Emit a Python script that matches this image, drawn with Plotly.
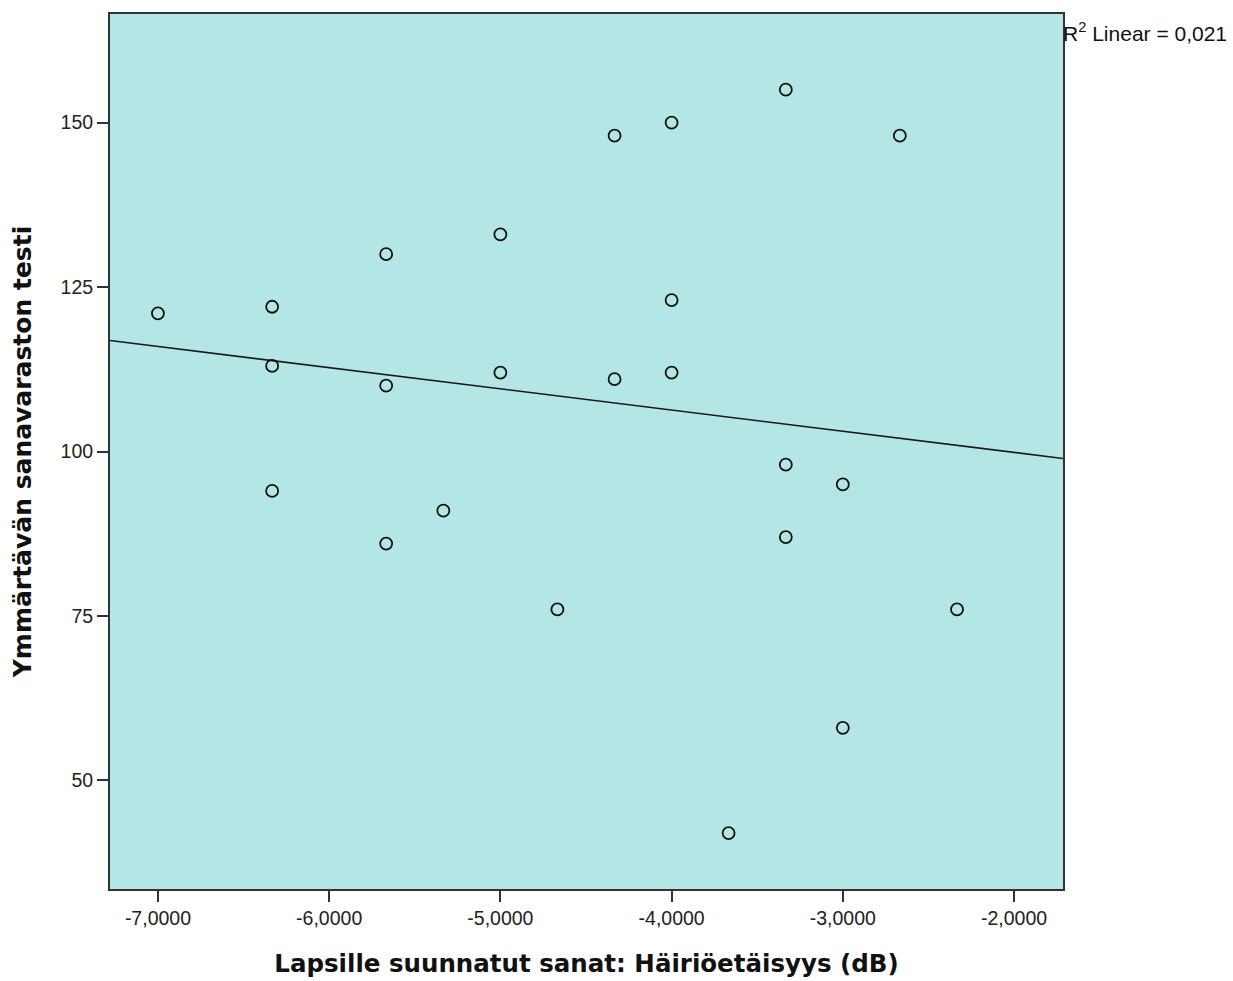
import numpy as np
import plotly.graph_objects as go

x_vals = [-7.0, -6.333, -6.333, -6.333, -5.667, -5.667, -5.667, -5.333, -5.0, -5.0,
          -4.667, -4.333, -4.333, -4.0, -4.0, -4.0, -3.667, -3.333, -3.333, -3.333,
          -3.0, -3.0, -2.667, -2.333]
y_vals = [121, 122, 113, 94, 130, 110, 86, 91, 133, 112,
          76, 148, 111, 150, 123, 112, 42, 155, 98, 87,
          95, 58, 148, 76]

x_tickvals = [-7, -6, -5, -4, -3, -2]
x_ticktext = ["-7,0000", "-6,0000", "-5,0000", "-4,0000", "-3,0000", "-2,0000"]
y_tickvals = [50, 75, 100, 125, 150]
y_ticktext = ["50", "75", "100", "125", "150"]

x_range = [-7.28, -1.714]
y_range = [33.5, 166.5]

slope, intercept = np.polyfit(x_vals, y_vals, 1)
fit_x = np.array(x_range)
fit_y = slope * fit_x + intercept
r2 = np.corrcoef(x_vals, y_vals)[0, 1] ** 2

fig = go.Figure()
fig.add_trace(go.Scatter(x=fit_x, y=fit_y, mode="lines",
                         line=dict(color="#1a1a1a", width=1.6), hoverinfo="skip"))
fig.add_trace(go.Scatter(x=x_vals, y=y_vals, mode="markers",
                         marker=dict(symbol="circle-open", size=12,
                                     line=dict(color="#111111", width=1.8), color="#111111")))

fig.add_annotation(x=1.0, y=0.98, xref="paper", yref="paper", xanchor="left", yanchor="middle",
                   xshift=-2,
                   text="R<sup>2</sup> Linear = " + f"{r2:.3f}".replace(".", ","),
                   showarrow=False, font=dict(family="Liberation Sans, Arial", size=21, color="#111111"))

axis_common = dict(showline=True, linecolor="#333333", linewidth=2, mirror=True,
                   showgrid=False, zeroline=False, ticks="outside", ticklen=11,
                   tickwidth=2, tickcolor="#333333", automargin=False,
                   tickfont=dict(family="Liberation Sans, Arial", size=19.5, color="#222222"))

fig.update_layout(
    width=1233, height=981,
    margin=dict(l=110, r=170, t=14, b=92),
    plot_bgcolor="#b4e6e6", paper_bgcolor="white",
    showlegend=False,
    xaxis=dict(range=x_range, tickvals=x_tickvals, ticktext=x_ticktext,
               title=dict(text="Lapsille suunnatut sanat: Häiriöetäisyys (dB)", standoff=26,
                          font=dict(family="DejaVu Sans", size=24.5, color="#111111", weight="bold")),
               **axis_common),
    yaxis=dict(range=y_range, tickvals=y_tickvals, ticktext=y_ticktext,
               title=dict(text="Ymmärtävän sanavaraston testi", standoff=22,
                          font=dict(family="DejaVu Sans", size=25, color="#111111", weight="bold")),
               **axis_common),
)

fig.write_html("out.html")
